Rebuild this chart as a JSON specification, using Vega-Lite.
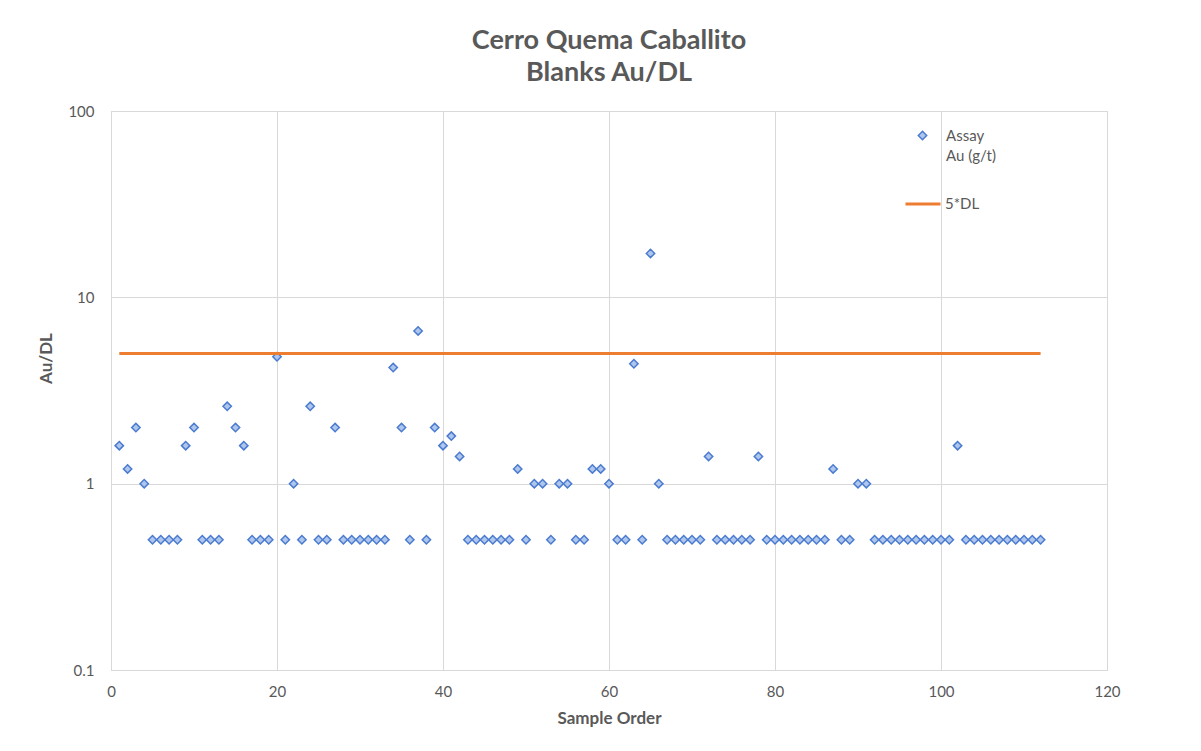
{
  "$schema": "https://vega.github.io/schema/vega-lite/v6.json",
  "width": 996,
  "height": 559,
  "autosize": {"type": "none"},
  "padding": {"left": 111, "top": 111, "right": 94, "bottom": 81},
  "background": "white",
  "title": {
    "text": ["Cerro Quema Caballito", "Blanks Au/DL"],
    "anchor": "middle",
    "frame": "group",
    "font": "Lato",
    "fontSize": 27,
    "fontWeight": "bold",
    "color": "#595959",
    "lineHeight": 32,
    "offset": 17
  },
  "config": {
    "font": "Lato",
    "view": {"stroke": "#D9D9D9", "strokeWidth": 1},
    "axis": {
      "domain": false,
      "ticks": false,
      "grid": true,
      "gridColor": "#D9D9D9",
      "gridWidth": 1,
      "labelColor": "#595959",
      "labelFont": "Lato",
      "labelFontSize": 15,
      "labelFlush": false,
      "titleColor": "#595959",
      "titleFont": "Lato",
      "titleFontSize": 17,
      "titleFontWeight": "bold"
    },
    "legend": {
      "labelColor": "#595959",
      "labelFont": "Lato",
      "labelFontSize": 15
    }
  },
  "layer": [
    {
      "data": {
        "values": [
          {"sample": 1, "au_dl": 1.6}, {"sample": 2, "au_dl": 1.2}, {"sample": 3, "au_dl": 2.0}, {"sample": 4, "au_dl": 1.0},
          {"sample": 5, "au_dl": 0.5}, {"sample": 6, "au_dl": 0.5}, {"sample": 7, "au_dl": 0.5}, {"sample": 8, "au_dl": 0.5},
          {"sample": 9, "au_dl": 1.6}, {"sample": 10, "au_dl": 2.0}, {"sample": 11, "au_dl": 0.5}, {"sample": 12, "au_dl": 0.5},
          {"sample": 13, "au_dl": 0.5}, {"sample": 14, "au_dl": 2.6}, {"sample": 15, "au_dl": 2.0}, {"sample": 16, "au_dl": 1.6},
          {"sample": 17, "au_dl": 0.5}, {"sample": 18, "au_dl": 0.5}, {"sample": 19, "au_dl": 0.5}, {"sample": 20, "au_dl": 4.8},
          {"sample": 21, "au_dl": 0.5}, {"sample": 22, "au_dl": 1.0}, {"sample": 23, "au_dl": 0.5}, {"sample": 24, "au_dl": 2.6},
          {"sample": 25, "au_dl": 0.5}, {"sample": 26, "au_dl": 0.5}, {"sample": 27, "au_dl": 2.0}, {"sample": 28, "au_dl": 0.5},
          {"sample": 29, "au_dl": 0.5}, {"sample": 30, "au_dl": 0.5}, {"sample": 31, "au_dl": 0.5}, {"sample": 32, "au_dl": 0.5},
          {"sample": 33, "au_dl": 0.5}, {"sample": 34, "au_dl": 4.2}, {"sample": 35, "au_dl": 2.0}, {"sample": 36, "au_dl": 0.5},
          {"sample": 37, "au_dl": 6.6}, {"sample": 38, "au_dl": 0.5}, {"sample": 39, "au_dl": 2.0}, {"sample": 40, "au_dl": 1.6},
          {"sample": 41, "au_dl": 1.8}, {"sample": 42, "au_dl": 1.4}, {"sample": 43, "au_dl": 0.5}, {"sample": 44, "au_dl": 0.5},
          {"sample": 45, "au_dl": 0.5}, {"sample": 46, "au_dl": 0.5}, {"sample": 47, "au_dl": 0.5}, {"sample": 48, "au_dl": 0.5},
          {"sample": 49, "au_dl": 1.2}, {"sample": 50, "au_dl": 0.5}, {"sample": 51, "au_dl": 1.0}, {"sample": 52, "au_dl": 1.0},
          {"sample": 53, "au_dl": 0.5}, {"sample": 54, "au_dl": 1.0}, {"sample": 55, "au_dl": 1.0}, {"sample": 56, "au_dl": 0.5},
          {"sample": 57, "au_dl": 0.5}, {"sample": 58, "au_dl": 1.2}, {"sample": 59, "au_dl": 1.2}, {"sample": 60, "au_dl": 1.0},
          {"sample": 61, "au_dl": 0.5}, {"sample": 62, "au_dl": 0.5}, {"sample": 63, "au_dl": 4.4}, {"sample": 64, "au_dl": 0.5},
          {"sample": 65, "au_dl": 17.2}, {"sample": 66, "au_dl": 1.0}, {"sample": 67, "au_dl": 0.5}, {"sample": 68, "au_dl": 0.5},
          {"sample": 69, "au_dl": 0.5}, {"sample": 70, "au_dl": 0.5}, {"sample": 71, "au_dl": 0.5}, {"sample": 72, "au_dl": 1.4},
          {"sample": 73, "au_dl": 0.5}, {"sample": 74, "au_dl": 0.5}, {"sample": 75, "au_dl": 0.5}, {"sample": 76, "au_dl": 0.5},
          {"sample": 77, "au_dl": 0.5}, {"sample": 78, "au_dl": 1.4}, {"sample": 79, "au_dl": 0.5}, {"sample": 80, "au_dl": 0.5},
          {"sample": 81, "au_dl": 0.5}, {"sample": 82, "au_dl": 0.5}, {"sample": 83, "au_dl": 0.5}, {"sample": 84, "au_dl": 0.5},
          {"sample": 85, "au_dl": 0.5}, {"sample": 86, "au_dl": 0.5}, {"sample": 87, "au_dl": 1.2}, {"sample": 88, "au_dl": 0.5},
          {"sample": 89, "au_dl": 0.5}, {"sample": 90, "au_dl": 1.0}, {"sample": 91, "au_dl": 1.0}, {"sample": 92, "au_dl": 0.5},
          {"sample": 93, "au_dl": 0.5}, {"sample": 94, "au_dl": 0.5}, {"sample": 95, "au_dl": 0.5}, {"sample": 96, "au_dl": 0.5},
          {"sample": 97, "au_dl": 0.5}, {"sample": 98, "au_dl": 0.5}, {"sample": 99, "au_dl": 0.5}, {"sample": 100, "au_dl": 0.5},
          {"sample": 101, "au_dl": 0.5}, {"sample": 102, "au_dl": 1.6}, {"sample": 103, "au_dl": 0.5}, {"sample": 104, "au_dl": 0.5},
          {"sample": 105, "au_dl": 0.5}, {"sample": 106, "au_dl": 0.5}, {"sample": 107, "au_dl": 0.5}, {"sample": 108, "au_dl": 0.5},
          {"sample": 109, "au_dl": 0.5}, {"sample": 110, "au_dl": 0.5}, {"sample": 111, "au_dl": 0.5}, {"sample": 112, "au_dl": 0.5}
        ]
      },
      "mark": {"type": "point", "shape": "diamond", "filled": true, "fill": "#AFC6EC", "stroke": "#4A7BD0", "strokeWidth": 1.5, "size": 70},
      "encoding": {
        "x": {
          "field": "sample",
          "type": "quantitative",
          "scale": {"domain": [0, 120], "nice": false, "zero": false},
          "axis": {"values": [0, 20, 40, 60, 80, 100, 120], "title": "Sample Order", "labelPadding": 14, "titleY": 48, "titleBaseline": "middle"}
        },
        "y": {
          "field": "au_dl",
          "type": "quantitative",
          "scale": {"type": "log", "domain": [0.1, 100], "nice": false},
          "axis": {"values": [0.1, 1, 10, 100], "format": "~g", "title": "Au/DL", "labelPadding": 17, "titleX": -65, "titleY": 247, "titleBaseline": "middle"}
        },
        "opacity": {
          "datum": "Assay",
          "type": "nominal",
          "scale": {"domain": ["Assay"], "range": [1]},
          "legend": {
            "title": null,
            "orient": "none",
            "legendX": 804,
            "legendY": 17,
            "padding": 0,
            "symbolType": "diamond",
            "symbolSize": 70,
            "labelOffset": 16
          }
        },
        "shape": {
          "datum": "Au (g/t)",
          "type": "nominal",
          "scale": {"domain": ["Au (g/t)"], "range": ["diamond"]},
          "legend": {
            "title": null,
            "orient": "none",
            "legendX": 804,
            "legendY": 37,
            "padding": 0,
            "symbolSize": 70,
            "symbolOpacity": 0,
            "symbolFillColor": "transparent",
            "symbolStrokeColor": "transparent",
            "labelOffset": 16
          }
        }
      }
    },
    {
      "data": {"values": [{"start": 1, "end": 112, "level": 5, "series": "5*DL"}]},
      "mark": {"type": "rule", "strokeWidth": 3},
      "encoding": {
        "x": {"field": "start", "type": "quantitative"},
        "x2": {"field": "end"},
        "y": {"field": "level", "type": "quantitative"},
        "color": {
          "field": "series",
          "type": "nominal",
          "scale": {"domain": ["5*DL"], "range": ["#ED7D31"]},
          "legend": {
            "title": null,
            "orient": "none",
            "legendX": 793,
            "legendY": 74,
            "padding": 0,
            "symbolType": "stroke",
            "symbolSize": 1225,
            "symbolStrokeWidth": 3,
            "labelOffset": 3
          }
        }
      }
    }
  ]
}
